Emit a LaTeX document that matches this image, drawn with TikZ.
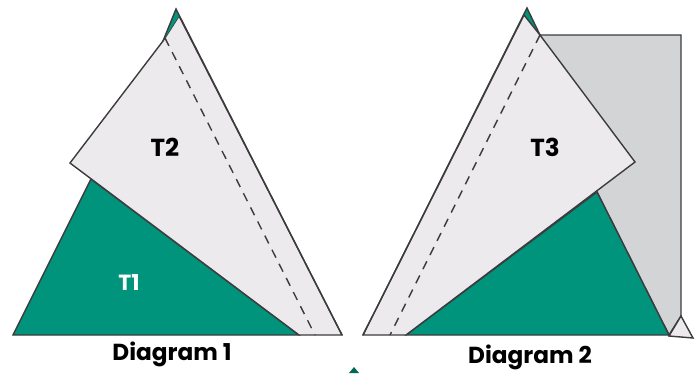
\documentclass[tikz,border=0pt]{standalone}
\usepackage{fontspec}
\setmainfont{Poppins}
\definecolor{tealfill}{HTML}{00947C}
\definecolor{paperfill}{HTML}{ECEAEC}
\definecolor{shadefill}{HTML}{D3D4D6}
\definecolor{edgeline}{HTML}{3C3C3E}
\tikzset{
    teal/.style={fill=tealfill, draw=edgeline, line width=0.8pt},
    paper/.style={fill=paperfill, draw=edgeline, line width=0.8pt},
    shade/.style={fill=shadefill, draw=edgeline, line width=0.8pt},
    fold/.style={draw=edgeline, dash pattern=on 5pt off 4pt, line width=0.8pt},
    tag/.style={inner sep=0pt, font=\bfseries\fontsize{14}{16}\selectfont, text=black},
    caption/.style={inner sep=0pt, font=\bfseries\fontsize{13.2}{15}\selectfont, text=black},
}

\begin{document}
\begin{tikzpicture}[x=0.02cm, y=-0.02cm]
        \useasboundingbox (0,0) rectangle (697,373);
        % first diagram
        \draw[teal] (13,335) -- (91,179) -- (299,335) -- cycle;
        \draw[paper] (70,163) -- (163,41) -- (179,16) -- (342,335) -- (299,335) -- cycle;
        \fill[tealfill] (176,9) -- (163,41) -- (179,16) -- cycle;
        \draw[edgeline, line width=0.8pt] (163,41) -- (176,9) -- (342,335);
        \draw[fold] (165,38) -- (315,335);
        % second diagram
        \draw[shade] (540,35) -- (681,35) -- (681,316) -- (669,335) -- (597,192) -- cycle;
        \draw[paper] (669,336) -- (681,316) -- (693,338) -- cycle;
        \draw[teal] (406,335) -- (597,192) -- (669,335) -- cycle;
        \fill[tealfill] (527,8) -- (524,15) -- (540,35) -- cycle;
        \draw[paper] (363,335) -- (524,15) -- (540,35) -- (635,162) -- (406,335) -- cycle;
        \draw[edgeline, line width=0.8pt] (363,335) -- (527,8) -- (540,35);
        \draw[fold] (540,35) -- (390,335);
        % cut off mark at the bottom
        \fill[tealfill!70!black] (354,367) -- (349,373) -- (359,373) -- cycle;
        % labels
        \node[tag] (tagtwo) at (165,147) {T2};
        \node[tag] (tagthree) at (545,147) {T3};
        \node[tag, text=white, font=\bfseries\fontsize{12.5}{14}\selectfont] (tagone) at (129,282) {T1};
        \node[caption] (captionone) at (172,354) {Diagram 1};
        \node[caption] (captiontwo) at (530,357) {Diagram 2};
    \end{tikzpicture}
\end{document}
